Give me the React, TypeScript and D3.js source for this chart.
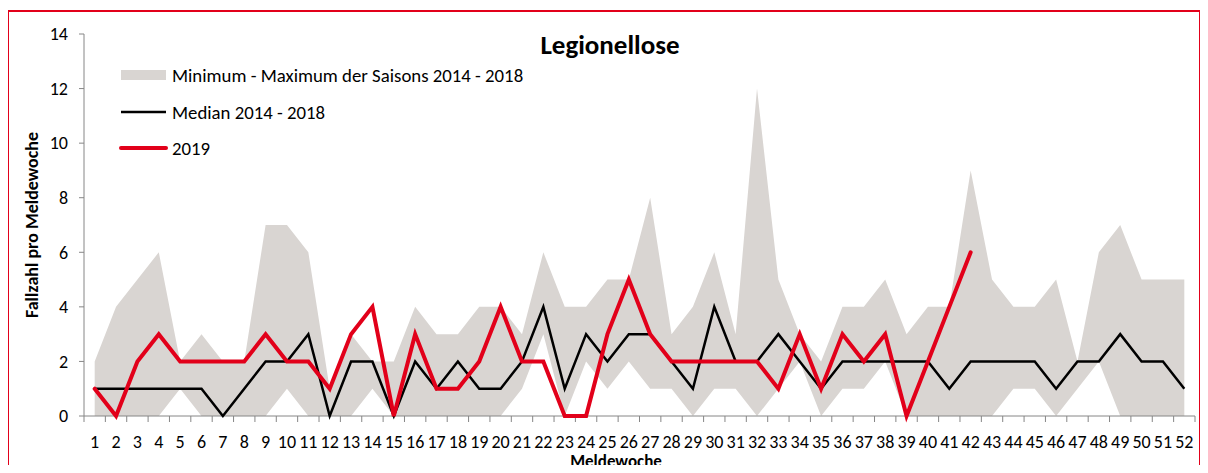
import React from "react";
import * as d3 from "d3";

const weeks = d3.range(1, 53).map(String);
const maxValues = [2,4,5,6,2,3,2,2,7,7, 6,1,3,2,2,4,3,3,4,4, 3,6,4,4,5,5,8,3,4,6, 3,12,5,3,2,4,4,5,3,4, 4,9,5,4,4,5,2,6,7,5, 5,5];
const minValues = [0,0,0,0,1,0,0,0,0,1, 0,0,0,1,0,0,0,0,0,0, 1,3,0,2,1,2,1,1,0,1, 1,0,1,2,0,1,1,2,0,0, 0,0,0,1,1,0,1,2,0,0, 0,0];
const median = [1,1,1,1,1,1,0,1,2,2, 3,0,2,2,0,2,1,2,1,1, 2,4,1,3,2,3,3,2,1,4, 2,2,3,2,1,2,2,2,2,2, 1,2,2,2,2,1,2,2,3,2, 2,1];
const y2019 = [1,0,2,3,2,2,2,2,3,2, 2,1,3,4,0,3,1,1,2,4, 2,2,0,0,3,5,3,2,2,2, 2,2,1,3,1,3,2,3,0,2, 4,6];
const yTicks = [0, 2, 4, 6, 8, 10, 12, 14];

const legendLabels = ["Minimum - Maximum der Saisons 2014 - 2018", "Median 2014 - 2018", "2019"];

const RED = "#e2001a";
const BAND = "#d9d5d2";
const FONT = "Carlito, 'Open Sans', sans-serif";

export default function App() {
  const W = 1208, H = 473;
  const left = 84, right = 1195, top = 34, bottom = 416;

  const x = d3.scaleBand<string>().domain(weeks).range([left, right]);
  const cx = (i: number) => (x(weeks[i]) as number) + x.bandwidth() / 2;
  const y = d3.scaleLinear().domain([0, 14]).range([bottom, top]);

  const area = d3.area<number>()
    .x((_, i) => cx(i))
    .y0((_, i) => y(minValues[i]))
    .y1(d => y(d));
  const line = d3.line<number>().x((_, i) => cx(i)).y(d => y(d));

  return (
    <div style={{ margin: -8 }}>
      <svg width={W} height={H} style={{ display: "block", fontFamily: FONT }}>
        <rect x={0} y={0} width={W} height={H} fill="#fff" />
        <rect x={8} y={11} width={1192} height={480} fill="none" stroke={RED} strokeWidth={2} />

        <path d={area(maxValues) || ""} fill={BAND} />

        {/* y axis */}
        <line x1={left} x2={left} y1={top} y2={bottom} stroke="#868686" />
        {yTicks.map(t => (
          <g key={t}>
            <line x1={left - 5} x2={left} y1={y(t)} y2={y(t)} stroke="#868686" />
            <text x={left - 16} y={y(t)} dy="0.35em" textAnchor="end" fontSize={18}>{t}</text>
          </g>
        ))}

        {/* x axis */}
        <line x1={left} x2={right} y1={bottom} y2={bottom} stroke="#868686" />
        {weeks.map((w, i) => (
          <g key={w}>
            <line x1={x(w) as number} x2={x(w) as number} y1={bottom} y2={bottom + 6} stroke="#868686" />
            <text x={cx(i)} y={bottom + 26} dy="0.35em" textAnchor="middle" fontSize={18}>{w}</text>
          </g>
        ))}
        <line x1={right} x2={right} y1={bottom} y2={bottom + 6} stroke="#868686" />

        <path d={line(median) || ""} fill="none" stroke="#000" strokeWidth={2.5} />
        <path d={line(y2019) || ""} fill="none" stroke={RED} strokeWidth={4} strokeLinecap="round" />

        {/* legend */}
        <rect x={121} y={70} width={45} height={10} fill={BAND} />
        <line x1={121} x2={166} y1={112} y2={112} stroke="#000" strokeWidth={2.5} />
        <line x1={121} x2={166} y1={148} y2={148} stroke={RED} strokeWidth={4} strokeLinecap="round" />
        {legendLabels.map((l, i) => (
          <text key={l} x={172} y={[75, 112, 148][i]} dy="0.35em" fontSize={18.8}>{l}</text>
        ))}

        <text x={610} y={45} dy="0.35em" textAnchor="middle" fontSize={27} fontWeight="bold">Legionellose</text>
        <text x={616} y={467} textAnchor="middle" fontSize={17} fontWeight="bold">Meldewoche</text>
        <text transform={`translate(32,${(top + bottom) / 2}) rotate(-90)`} dy="0.35em" textAnchor="middle" fontSize={18} fontWeight="bold">Fallzahl pro Meldewoche</text>
      </svg>
    </div>
  );
}
